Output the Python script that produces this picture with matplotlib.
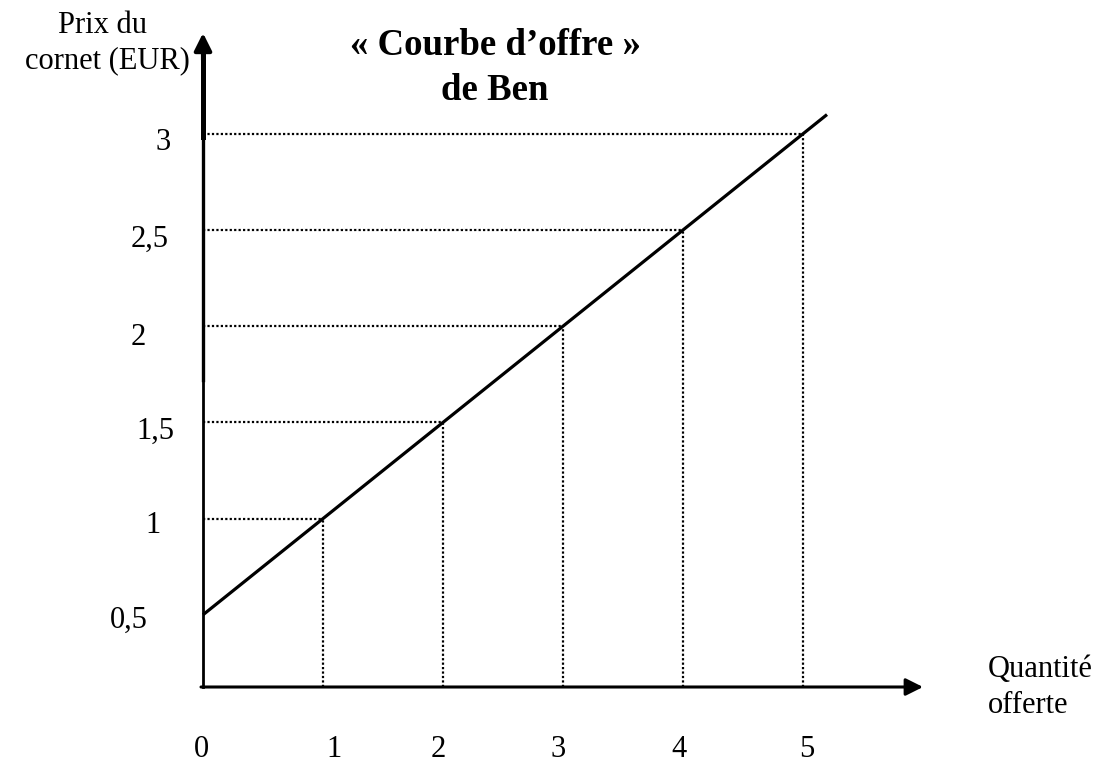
import matplotlib
matplotlib.use("Agg")
import matplotlib.pyplot as plt

# ---- data ----
quantities = [1, 2, 3, 4, 5]
prices = [1, 1.5, 2, 2.5, 3]
curve_q = [0, 1, 2, 3, 4, 5, 5.2]
curve_p = [0.5, 1, 1.5, 2, 2.5, 3, 3.1]
y_tick_values = [0.5, 1, 1.5, 2, 2.5, 3]
y_tick_labels = ["0,5", "1", "1,5", "2", "2,5", "3"]
x_tick_values = [0, 1, 2, 3, 4, 5]
x_tick_labels = ["0", "1", "2", "3", "4", "5"]
title_lines = ["« Courbe d\u2019offre »", "de Ben"]
ylabel_lines = ["Prix du", "cornet (EUR)"]
xlabel_lines = ["Quantité", "offerte"]

# ---- layout (pixel mapping) ----
W, H = 1100, 764
X0, XS = 203, 120.0      # pixel of q=0, pixels per unit
Y0, YS = 711, 192.4      # pixel row of p=0, pixels per unit

def qx(px):
    return (px - X0) / XS

def py(pyx):
    return (Y0 - pyx) / YS

plt.rcParams['font.family'] = ['Liberation Serif', 'DejaVu Serif']
fig = plt.figure(figsize=(W / 100, H / 100), dpi=100)
ax = fig.add_axes([0, 0, 1, 1])
ax.set_xlim(qx(0), qx(W))
ax.set_ylim(py(H), py(0))
ax.axis('off')

base = py(687)  # x axis row

# dotted guides
dot = dict(color='black', lw=1.6, linestyle=(0, (1, 1)))
for q, p in zip(quantities, prices):
    ax.plot([0, q], [p, p], **dot)
    ax.plot([q, q], [base, p], **dot)

# supply curve
ax.plot(curve_q, curve_p, color='black', lw=2.3, solid_capstyle='butt')

# axes
ax.plot([0, 0], [base, py(380)], color='black', lw=2.0)
ax.plot([0, 0], [py(380), py(137)], color='black', lw=2.4)
ax.plot([0, 0], [py(137), py(50)], color='black', lw=3.6)
ax.annotate('', xy=(0, py(33)), xytext=(0, py(60)),
            arrowprops=dict(arrowstyle='-|>', lw=3, color='black',
                            mutation_scale=26, shrinkA=0, shrinkB=0))
ax.annotate('', xy=(qx(923), base), xytext=(qx(201), base),
            arrowprops=dict(arrowstyle='-|>', lw=2.2, color='black',
                            mutation_scale=26, shrinkA=0, shrinkB=0))

# tick labels
fs = 22
y_lbl_x = [129, 153, 155, 138, 150, 163]
y_lbl_base = [628, 533, 439, 345, 247, 150]
for v, t, lx, lb in zip(y_tick_values, y_tick_labels, y_lbl_x, y_lbl_base):
    ax.text(qx(lx), py(lb), t, ha='center', va='baseline', fontsize=fs)

x_lbl_off = [-2, 11, -5, -5, -4, 4]
for v, t, o in zip(x_tick_values, x_tick_labels, x_lbl_off):
    ax.text(v + o / XS, py(757), t, ha='center', va='baseline', fontsize=fs)

# title
ax.text(qx(495), py(55), title_lines[0], ha='center', va='baseline',
        fontsize=26.5, fontweight='bold')
ax.text(qx(495), py(100), title_lines[1], ha='center', va='baseline',
        fontsize=26.5, fontweight='bold')

# axis titles
ax.text(qx(102), py(33), ylabel_lines[0], ha='center', va='baseline', fontsize=22)
ax.text(qx(107), py(68), ylabel_lines[1], ha='center', va='baseline', fontsize=22)
ax.text(qx(988), py(677), xlabel_lines[0], ha='left', va='baseline', fontsize=22)
ax.text(qx(988), py(713), xlabel_lines[1], ha='left', va='baseline', fontsize=22)

fig.savefig('out.png', dpi=100)
